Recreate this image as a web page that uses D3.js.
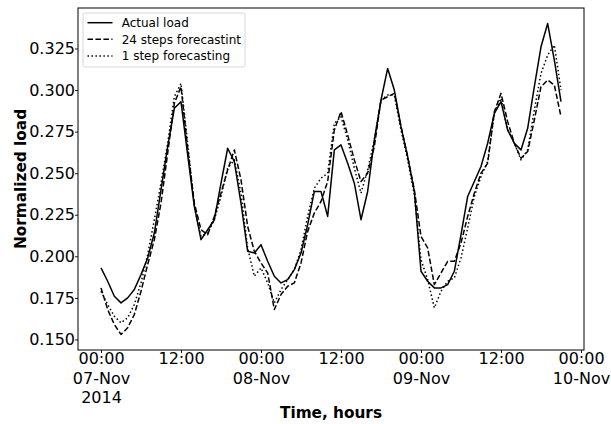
<!DOCTYPE html>
<html>
<head>
<meta charset="utf-8">
<script src="https://cdn.jsdelivr.net/npm/d3@7"></script>
<style>
  html, body { margin: 0; padding: 0; background: #fff; }
  svg { display: block; font-family: "DejaVu Sans", sans-serif; }
</style>
</head>
<body>
<svg id="chart" width="611" height="424"></svg>
<script>
// ---- data (hourly, starting 2014-11-07 00:00) ----
const startTime = "2014-11-07T00:00:00Z";
const actualLoad = [
  0.193, 0.185, 0.176, 0.172, 0.175, 0.180, 0.189, 0.199, 0.214, 0.240,
  0.266, 0.289, 0.293, 0.261, 0.230, 0.210, 0.216, 0.222, 0.244, 0.265,
  0.257, 0.232, 0.203, 0.202, 0.207, 0.197, 0.188, 0.184, 0.186, 0.192,
  0.202, 0.219, 0.239, 0.239, 0.224, 0.264, 0.267, 0.256, 0.244, 0.222,
  0.239, 0.270, 0.294, 0.313, 0.300, 0.278, 0.260, 0.239, 0.191, 0.185,
  0.181, 0.181, 0.183, 0.191, 0.213, 0.236, 0.245, 0.254, 0.268, 0.286,
  0.293, 0.276, 0.268, 0.264, 0.277, 0.302, 0.326, 0.340, 0.318, 0.293
];
const forecast24 = [
  0.181, 0.168, 0.159, 0.153, 0.157, 0.165, 0.179, 0.195, 0.210, 0.232,
  0.262, 0.292, 0.302, 0.265, 0.232, 0.216, 0.213, 0.224, 0.238, 0.252,
  0.264, 0.246, 0.218, 0.203, 0.196, 0.190, 0.168, 0.177, 0.182, 0.184,
  0.196, 0.215, 0.226, 0.233, 0.245, 0.276, 0.287, 0.273, 0.258, 0.245,
  0.250, 0.266, 0.294, 0.296, 0.298, 0.278, 0.260, 0.240, 0.212, 0.205,
  0.183, 0.190, 0.197, 0.197, 0.208, 0.224, 0.238, 0.250, 0.256, 0.287,
  0.298, 0.281, 0.268, 0.259, 0.263, 0.282, 0.302, 0.306, 0.303, 0.284
];
const forecast1 = [
  0.179, 0.171, 0.164, 0.160, 0.163, 0.171, 0.184, 0.201, 0.222, 0.244,
  0.268, 0.296, 0.304, 0.268, 0.230, 0.212, 0.214, 0.222, 0.236, 0.253,
  0.258, 0.238, 0.205, 0.188, 0.193, 0.184, 0.172, 0.180, 0.186, 0.192,
  0.204, 0.224, 0.241, 0.247, 0.250, 0.280, 0.284, 0.270, 0.253, 0.238,
  0.252, 0.270, 0.294, 0.297, 0.297, 0.276, 0.258, 0.237, 0.198, 0.186,
  0.169, 0.179, 0.185, 0.187, 0.199, 0.217, 0.236, 0.248, 0.257, 0.286,
  0.295, 0.276, 0.268, 0.258, 0.264, 0.288, 0.310, 0.321, 0.327, 0.300
];
const yTickValues = [0.150, 0.175, 0.200, 0.225, 0.250, 0.275, 0.300, 0.325];
const seriesNames = ["Actual load", "24 steps forecastint", "1 step forecasting"];
const monthNames = ["Jan","Feb","Mar","Apr","May","Jun","Jul","Aug","Sep","Oct","Nov","Dec"];

// ---- layout ----
const svg = d3.select("#chart");
const L = 78, R = 584, T = 8, B = 350;

const t0 = new Date(startTime);
const times = actualLoad.map((_, i) => d3.utcHour.offset(t0, i));
const tMin = times[0], tMax = times[times.length - 1];
const span = tMax - tMin;
const x = d3.scaleUtc()
  .domain([new Date(+tMin - 0.05 * span), new Date(+tMax + 0.05 * span)])
  .range([L, R]);

const allVals = actualLoad.concat(forecast24, forecast1);
const vMin = d3.min(allVals), vMax = d3.max(allVals);
const vSpan = vMax - vMin;
const y = d3.scaleLinear()
  .domain([vMin - 0.05 * vSpan, vMax + 0.05 * vSpan])
  .range([B, T]);

// ---- lines ----
const line = d3.line().x((d, i) => x(times[i])).y(d => y(d));
const styles = [
  { data: actualLoad, dash: null },
  { data: forecast24, dash: "5.55,2.4" },
  { data: forecast1, dash: "1.5,2.47" }
];
const clip = svg.append("clipPath").attr("id", "clip")
  .append("rect").attr("x", L).attr("y", T).attr("width", R - L).attr("height", B - T);
const plot = svg.append("g").attr("clip-path", "url(#clip)");
styles.forEach(s => {
  plot.append("path")
    .datum(s.data)
    .attr("d", line)
    .attr("fill", "none")
    .attr("stroke", "#000")
    .attr("stroke-width", 1.5)
    .attr("stroke-dasharray", s.dash)
    .attr("stroke-linejoin", "round");
});

// ---- axes ----
const xTicks = d3.utcHour.every(12).range(new Date(+tMin), new Date(+x.domain()[1] + 1));
const xAxis = d3.axisBottom(x).tickValues(xTicks).tickSize(3).tickSizeOuter(0).tickPadding(0).tickFormat(() => "");
const gx = svg.append("g").attr("transform", `translate(0,${B})`).call(xAxis);
gx.select(".domain").remove();
gx.selectAll(".tick line").attr("stroke", "#000").attr("stroke-width", 0.9);
gx.selectAll(".tick text").each(function(d, i) {
  const t = d3.select(this);
  t.attr("font-size", 16).attr("fill", "#000").attr("font-family", "DejaVu Sans");
  const hh = String(d.getUTCHours()).padStart(2, "0") + ":00";
  const lines = [hh];
  if (d.getUTCHours() === 0) {
    lines.push(String(d.getUTCDate()).padStart(2, "0") + "-" + monthNames[d.getUTCMonth()]);
    if (i === 0) lines.push(String(d.getUTCFullYear()));
  }
  t.text(null);
  lines.forEach((s, k) => {
    t.append("tspan").attr("x", 0).attr("dy", k === 0 ? "0.71em" : "1.2em").text(s);
  });
  t.attr("dy", null);
});

const yAxis = d3.axisLeft(y).tickValues(yTickValues).tickSize(3).tickSizeOuter(0).tickPadding(0).tickFormat(d3.format(".3f"));
const gy = svg.append("g").attr("transform", `translate(${L},0)`).call(yAxis);
gy.select(".domain").remove();
gy.selectAll(".tick line").attr("stroke", "#000").attr("stroke-width", 0.9);
gy.selectAll(".tick text").attr("font-size", 16).attr("fill", "#000").attr("font-family", "DejaVu Sans");

// frame
svg.append("rect").attr("x", L).attr("y", T).attr("width", R - L).attr("height", B - T)
  .attr("fill", "none").attr("stroke", "#000").attr("stroke-width", 1);

// axis labels
svg.append("text").attr("x", (L + R) / 2).attr("y", 417.5)
  .attr("text-anchor", "middle").attr("font-size", 15.3).attr("font-weight", "bold")
  .text("Time, hours");
svg.append("text").attr("transform", `translate(26,${(T + B) / 2}) rotate(-90)`)
  .attr("text-anchor", "middle").attr("font-size", 15.3).attr("font-weight", "bold")
  .text("Normalized load");

// ---- legend ----
const lg = svg.append("g");
lg.append("rect").attr("x", 83).attr("y", 13).attr("width", 162).attr("height", 54).attr("rx", 2.5)
  .attr("fill", "#fff").attr("fill-opacity", 0.8).attr("stroke", "#cccccc").attr("stroke-width", 0.8);
const rowsY = [22.7, 39.3, 56];
styles.forEach((s, k) => {
  lg.append("line").attr("x1", 87.5).attr("x2", 112.5).attr("y1", rowsY[k]).attr("y2", rowsY[k])
    .attr("stroke", "#000").attr("stroke-width", 1.5).attr("stroke-dasharray", s.dash);
  lg.append("text").attr("x", 121.7).attr("y", rowsY[k]).attr("dy", "0.36em")
    .attr("font-size", 12).attr("fill", "#000").text(seriesNames[k]);
});
</script>
</body>
</html>
